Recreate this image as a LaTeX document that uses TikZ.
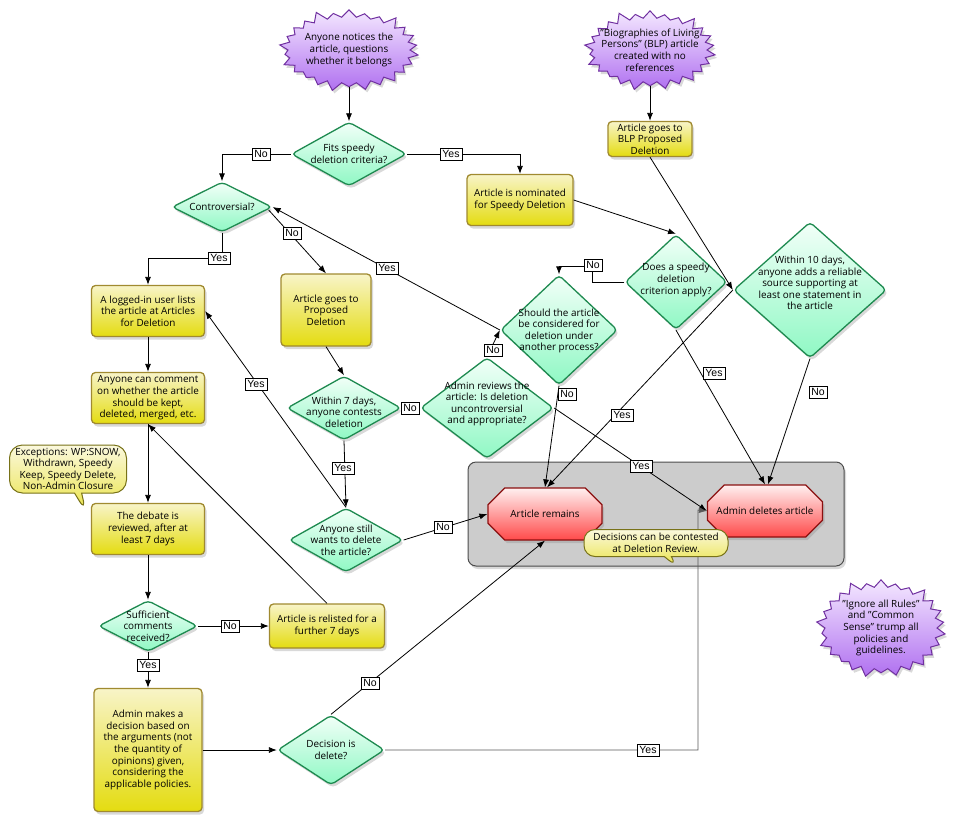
\documentclass[tikz,border=0pt]{standalone}
\usepackage{fontspec}
\setmainfont{Open Sans}
\newfontfamily\lblfont{Liberation Sans}
\usetikzlibrary{shapes.geometric,shapes.symbols,shapes.misc,shapes.callouts,arrows.meta,shadows}
\definecolor{ytop}{HTML}{F8F4C8}\definecolor{ybot}{HTML}{E4DC10}\definecolor{ydraw}{HTML}{A08A30}
\definecolor{gtop}{HTML}{F2FFF8}\definecolor{gbot}{HTML}{8FF8C4}\definecolor{gdraw}{HTML}{1E8A50}
\definecolor{rtop}{HTML}{FFF0F0}\definecolor{rbot}{HTML}{FF4A4A}\definecolor{rdraw}{HTML}{8B1010}
\definecolor{ptop}{HTML}{F4E8FF}\definecolor{pbot}{HTML}{B070F0}\definecolor{pdraw}{HTML}{7030A0}
\begin{document}
\begin{tikzpicture}[x=1pt,y=-1pt,
  every node/.style={font=\fontsize{9.9}{11.6}\selectfont},
  shd/.style={drop shadow={opacity=0.3,shadow xshift=2pt,shadow yshift=-3pt}},
  box/.style={draw=ydraw,line width=1.3pt,rounded corners=4pt,top color=ytop,bottom color=ybot,align=center,inner sep=1pt,shd},
  dia/.style={diamond,draw=gdraw,line width=1.3pt,rounded corners=4pt,top color=gtop,bottom color=gbot,inner sep=0pt,shd},
  oct/.style={chamfered rectangle,chamfered rectangle xsep=22pt,chamfered rectangle ysep=13pt,draw=rdraw,line width=1.2pt,top color=rtop,bottom color=rbot,inner sep=0pt,shd},
  star/.style={starburst,starburst points=26,starburst point height=10pt,draw=pdraw,line width=1pt,top color=ptop,bottom color=pbot,inner sep=0pt,shd},
  txt/.style={align=center,inner sep=0pt},
  lbl/.style={draw,fill=white,inner sep=2.2pt,font=\lblfont\fontsize{10.5}{12}\selectfont},
  arr/.style={-{Latex[length=8pt,width=6pt]},line width=0.8pt},
  ln/.style={line width=0.8pt}]
\useasboundingbox (0,0) rectangle (960,827);
% grey group
\node[draw=black!70,line width=1pt,fill=black!20,rounded corners=8pt,minimum width=376pt,minimum height=104pt,shd] (grp) at (656,514) {};
% stars
\node[star,minimum width=142pt,minimum height=86pt] (s1) at (349,50) {};
\node[txt] (s1t) at (s1) {Anyone notices the\\article, questions\\whether it belongs};
\node[star,minimum width=134pt,minimum height=84pt] (s2) at (650,50) {};
\node[txt] (s2t) at (s2) {"Biographies of Living\\Persons" (BLP) article\\created with no\\references};
\node[star,minimum width=132pt,minimum height=102pt] (s3) at (881,628) {};
\node[txt] (s3t) at (s3) {"Ignore all Rules"\\and "Common\\Sense" trump all\\policies and\\guidelines.};
% diamonds
\node[dia,minimum width=115pt,minimum height=64pt] (d1) at (349,154) {};
\node[txt] at (d1) {Fits speedy\\deletion criteria?};
\node[dia,minimum width=100pt,minimum height=50pt] (d2) at (222,207) {};
\node[txt] at (d2) {Controversial?};
\node[dia,minimum width=102pt,minimum height=95pt] (d3) at (676,282) {};
\node[txt] at (676,280) {Does a speedy\\deletion\\criterion apply?};
\node[dia,minimum width=153pt,minimum height=136pt] (d4) at (810,290) {};
\node[txt] at (810,283) {Within 10 days,\\anyone adds a reliable\\source supporting at\\least one statement in\\the article};
\node[dia,minimum width=117pt,minimum height=110pt] (d5) at (559,330) {};
\node[txt] at (559,331) {Should the article\\be considered for\\deletion under\\another process?};
\node[dia,minimum width=133pt,minimum height=101pt] (d6) at (487,408) {};
\node[txt] at (487,404) {Admin reviews the\\article: Is deletion\\uncontroversial\\and appropriate?};
\node[dia,minimum width=114pt,minimum height=64pt] (d7) at (344,408) {};
\node[txt] at (344,412) {Within 7 days,\\anyone contests\\deletion};
\node[dia,minimum width=114pt,minimum height=64pt] (d8) at (346,540) {};
\node[txt] at (346,540) {Anyone still\\wants to delete\\the article?};
\node[dia,minimum width=99pt,minimum height=51pt] (d9) at (148,626) {};
\node[txt] at (148,626) {Sufficient\\comments\\received?};
\node[dia,minimum width=107pt,minimum height=70pt] (d10) at (331,750) {};
\node[txt] at (331,750) {Decision is\\delete?};
% boxes
\node[box,minimum width=106pt,minimum height=51pt] (b1) at (520,200) {Article is nominated\\for Speedy Deletion};
\node[box,minimum width=84pt,minimum height=35pt] (b2) at (650,139) {Article goes to\\BLP Proposed\\Deletion};
\node[box,minimum width=90pt,minimum height=72pt] (b3) at (326,310) {Article goes to\\Proposed\\Deletion};
\node[box,minimum width=113pt,minimum height=51pt] (b4) at (148,311) {A logged-in user lists\\the article at Articles\\for Deletion};
\node[box,minimum width=113pt,minimum height=51pt] (b5) at (148,398) {Anyone can comment\\on whether the article\\should be kept,\\deleted, merged, etc.};
\node[box,minimum width=113pt,minimum height=51pt] (b6) at (148,529) {The debate is\\reviewed, after at\\least 7 days};
\node[box,minimum width=115pt,minimum height=44pt] (b7) at (327,626) {Article is relisted for a\\further 7 days};
\node[box,minimum width=108pt,minimum height=123pt] (b8) at (148,750) {Admin makes a\\decision based on\\the arguments (not\\the quantity of\\opinions) given,\\considering the\\applicable policies.};
% octagons
\node[oct,minimum width=114pt,minimum height=52pt] (o1) at (545,514) {Article remains};
\node[oct,minimum width=115pt,minimum height=52pt] (o2) at (765,511) {Admin deletes article};
% callouts
\node[rectangle callout,rounded corners=13pt,draw=olive!80!black,line width=1pt,top color=ytop!60!white,bottom color=ybot!70!ytop,align=center,minimum width=117pt,minimum height=48pt,inner sep=1pt,callout absolute pointer={(86,512)}] (c1) at (68,469) {Exceptions: WP:SNOW,\\Withdrawn, Speedy\\Keep, Speedy Delete,\\Non-Admin Closure};
% connectors
\draw[arr] (s1) -- (d1);
\draw[arr] (s2) -- (b2);
\draw[arr] (d1.west) -| (d2.north);
\draw[arr] (d1.east) -| (b1.north);
\coordinate (y1) at (148,258);
\draw[arr] (d2.south) |- (y1) -- (b4.north);
\draw[arr] (d2.east) ++(-4,3) -- (b3.north);
\draw[arr] (d5.west) -- (d2.east);
\draw[arr] (b1.east) -- (d3.north);
\draw[arr] (b2.south) -- (d4.west);
\coordinate (n1) at (592,266);\coordinate (n2) at (559,266);
\draw[arr] (d3.west) -| (n1) -- (n2) -- (d5.north);
\draw[arr] (d3.south) -- (o2.north);
\draw[arr] (d4.south) -- ([xshift=3pt]o2.north);
\draw[arr] (d4.west) -- ([xshift=2pt]o1.north);
\draw[arr] (d5.south) -- (o1.north);
\draw[arr] (d6.north) -- (d5.west);
\draw[arr] (d6.east) -- (o2.west);
\draw[arr] (d7.east) -- (d6.west);
\draw[arr] (b3.south) -- (d7.north);
\draw[arr] (d7.south) -- (d8.north);
\draw[arr] (d8.north) -- (b4.east);
\draw[arr] (d8.east) -- (o1.west);
\draw[arr] (b4) -- (b5);
\draw[arr] (b5) -- (b6);
\draw[arr] (b6) -- (d9);
\draw[arr] (d9.east) -- (b7.west);
\draw[arr] (d9.south) -- (b8.north);
\draw[arr] (b7.north) -- (b5.south);
\draw[arr] (b8.east) -- (d10.west);
\draw[arr] (d10.north) -- (o1.south);
\coordinate (t1) at (698,750);\coordinate (t2) at (698,510);
\draw[arr,black!65] (d10.east) -- (t1) -- (t2) -- (o2.west);
\node[rectangle callout,rounded corners=11pt,draw=olive!80!black,line width=1pt,top color=ytop!60!white,bottom color=ybot!70!ytop,align=center,minimum width=144pt,minimum height=27pt,inner sep=1pt,callout absolute pointer={(677,567)}] (c2) at (656,543) {Decisions can be contested\\at Deletion Review.};
% labels
\node[lbl] (l1) at (261,154) {No};
\node[lbl] (l2) at (451,154) {Yes};
\node[lbl] (l3) at (219,258) {Yes};
\node[lbl] (l4) at (292,233) {No};
\node[lbl] (l5) at (387,268) {Yes};
\node[lbl] (l6) at (593,265) {No};
\node[lbl] (l7) at (714,373) {Yes};
\node[lbl] (l8) at (818,392) {No};
\node[lbl] (l9) at (622,415) {Yes};
\node[lbl] (l10) at (567,394) {No};
\node[lbl] (l11) at (493,350) {No};
\node[lbl] (l12) at (641,466) {Yes};
\node[lbl] (l13) at (410,408) {No};
\node[lbl] (l14) at (343,468) {Yes};
\node[lbl] (l15) at (256,384) {Yes};
\node[lbl] (l16) at (443,527) {No};
\node[lbl] (l17) at (230,626) {No};
\node[lbl] (l18) at (148,665) {Yes};
\node[lbl] (l19) at (370,683) {No};
\node[lbl] (l20) at (648,750) {Yes};
\end{tikzpicture}
\end{document}
